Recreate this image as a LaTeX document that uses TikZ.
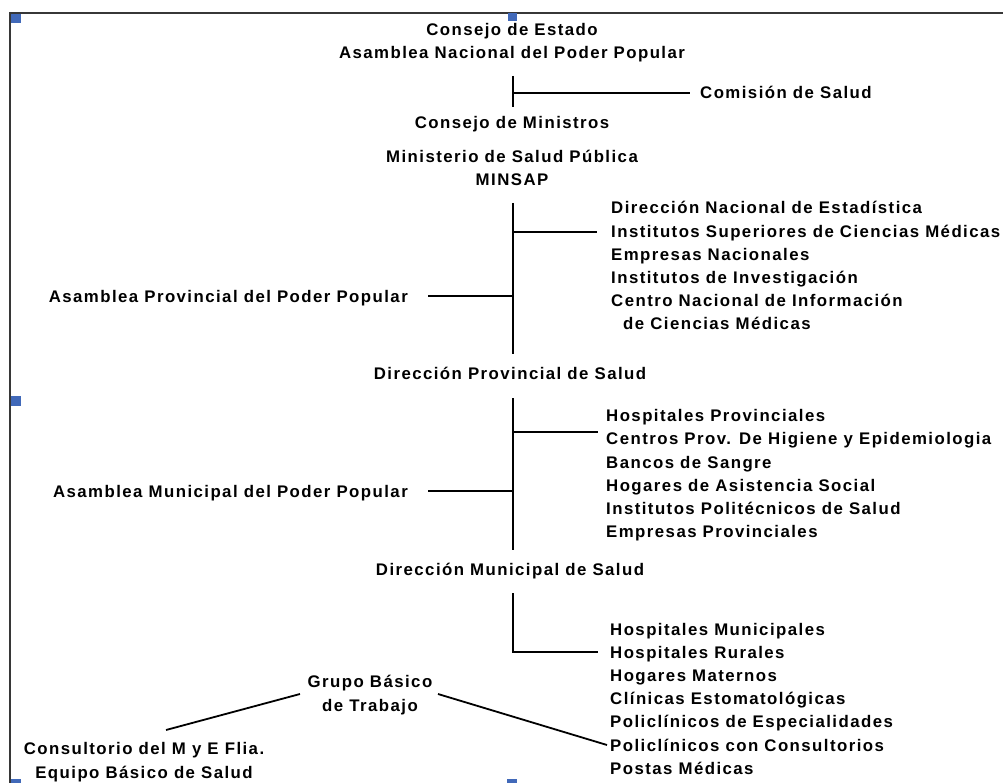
\documentclass[tikz,border=0pt]{standalone}
\usepackage{fontspec}
\newfontfamily\lblfam{Liberation Sans}[LetterSpace=8.6]
\newcommand\lblfont{\lblfam\bfseries\fontsize{16.8pt}{23.2pt}\selectfont}
\definecolor{handleblue}{RGB}{65,105,185}
\definecolor{framegray}{RGB}{55,55,55}
\tikzset{
  lbl/.style={font=\lblfont, inner sep=0pt, text=black},
  conn/.style={line width=1.8pt, black},
  framestyle/.style={line width=2pt, framegray},
  handle/.style={fill=handleblue, draw=none}
}
\begin{document}
\begin{tikzpicture}[x=1pt, y=-1pt]
\useasboundingbox (0,0) rectangle (1003,783);
% frame
\draw[framestyle] (9,13) -- (1003,13);
\draw[framestyle] (10,12) -- (10,783);
% selection handles
\fill[handle] (11,14) rectangle (21,23);
\fill[handle] (508,13) rectangle (517,21);
\fill[handle] (11,396) rectangle (21,406);
\fill[handle] (11,779) rectangle (21,783);
\fill[handle] (507,779) rectangle (517,783);
% central column (base anchor of a two-line node = last line)
\node[lbl, anchor=base, align=center] (cde) at (512,59) {Consejo de Estado\\Asamblea Nacional del Poder Popular};
\node[lbl, anchor=base west] (com) at (700,99) {Comisión de Salud};
\node[lbl, anchor=base] (cmin) at (512,129) {Consejo de Ministros};
\node[lbl, anchor=base, align=center] (minsap) at (512,186) {Ministerio de Salud Pública\\MINSAP};
% national list
\node[lbl, anchor=base west] (n1) at (611,214) {Dirección Nacional de Estadística};
\node[lbl, anchor=base west] (n2) at (611,238) {Institutos Superiores de Ciencias Médicas};
\node[lbl, anchor=base west] (n3) at (611,261) {Empresas Nacionales};
\node[lbl, anchor=base west] (n4) at (611,284) {Institutos de Investigación};
\node[lbl, anchor=base west] (n5) at (611,307) {Centro Nacional de Información};
\node[lbl, anchor=base west] (n6) at (623,330) {de Ciencias Médicas};
\node[lbl, anchor=base east] (app) at (408,302) {Asamblea Provincial del Poder Popular};
\node[lbl, anchor=base] (dps) at (510,379) {Dirección Provincial de Salud};
% provincial list
\node[lbl, anchor=base west] (p1) at (606,421) {Hospitales Provinciales};
\node[lbl, anchor=base west] (p2) at (606,444) {Centros Prov. De Higiene y Epidemiologia};
\node[lbl, anchor=base west] (p3) at (606,468) {Bancos de Sangre};
\node[lbl, anchor=base west] (p4) at (606,491) {Hogares de Asistencia Social};
\node[lbl, anchor=base west] (p5) at (606,514) {Institutos Politécnicos de Salud};
\node[lbl, anchor=base west] (p6) at (606,537) {Empresas Provinciales};
\node[lbl, anchor=base east] (amp) at (408,497) {Asamblea Municipal del Poder Popular};
\node[lbl, anchor=base] (dms) at (510,575) {Dirección Municipal de Salud};
% municipal list
\node[lbl, anchor=base west] (m1) at (610,635) {Hospitales Municipales};
\node[lbl, anchor=base west] (m2) at (610,658) {Hospitales Rurales};
\node[lbl, anchor=base west] (m3) at (610,681) {Hogares Maternos};
\node[lbl, anchor=base west] (m4) at (610,704) {Clínicas Estomatológicas};
\node[lbl, anchor=base west] (m5) at (610,727) {Policlínicos de Especialidades};
\node[lbl, anchor=base west] (m6) at (610,751) {Policlínicos con Consultorios};
\node[lbl, anchor=base west] (m7) at (610,774) {Postas Médicas};
\node[lbl, anchor=base, align=center] (gbt) at (370,711) {Grupo Básico\\de Trabajo};
\node[lbl, anchor=base, align=center] (cons) at (144,778) {Consultorio del M y E Flia.\\Equipo Básico de Salud};
% junction coordinates
\coordinate (a1) at (513,76);  \coordinate (a2) at (513,107);
\coordinate (a3) at (513,93);  \coordinate (a4) at (690,93);
\coordinate (b1) at (513,203); \coordinate (b2) at (513,354);
\coordinate (b3) at (513,232); \coordinate (b4) at (597,232);
\coordinate (b5) at (428,296); \coordinate (b6) at (513,296);
\coordinate (c1) at (513,398); \coordinate (c2) at (513,550);
\coordinate (c3) at (513,432); \coordinate (c4) at (598,432);
\coordinate (c5) at (428,491); \coordinate (c6) at (513,491);
\coordinate (d1) at (513,593); \coordinate (d2) at (513,652); \coordinate (d3) at (598,652);
\coordinate (g1) at (300,694); \coordinate (g2) at (166,730);
\coordinate (g3) at (438,694); \coordinate (g4) at (607,745);
% connectors
\draw[conn] (a1) -- (a2);
\draw[conn] (a3) -- (a4);
\draw[conn] (b1) -- (b2);
\draw[conn] (b3) -- (b4);
\draw[conn] (b5) -- (b6);
\draw[conn] (c1) -- (c2);
\draw[conn] (c3) -- (c4);
\draw[conn] (c5) -- (c6);
\draw[conn] (d1) -- (d2) -- (d3);
\draw[conn] (g1) -- (g2);
\draw[conn] (g3) -- (g4);
\end{tikzpicture}
\end{document}
